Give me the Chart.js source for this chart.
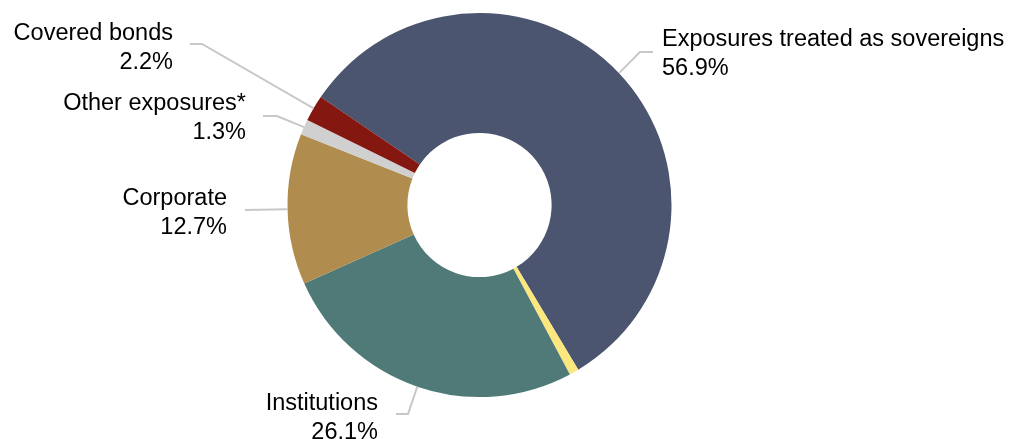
<!DOCTYPE html>
<html>
<head>
<meta charset="utf-8">
<script src="https://cdn.jsdelivr.net/npm/chart.js@4"></script>
<style>
  html, body { margin: 0; padding: 0; background: #ffffff; }
  #wrap { width: 1012px; height: 439px; position: relative; }
</style>
</head>
<body>
<div id="wrap"><canvas id="chart"></canvas></div>
<script>
// Exposure breakdown, clockwise from the upper-left edge of the largest slice
const categories = [
  'Exposures treated as sovereigns',
  '',
  'Institutions',
  'Corporate',
  'Other exposures*',
  'Covered bonds'
];
const shares = [56.9, 0.8, 26.1, 12.7, 1.3, 2.2];
const sliceColors = ['#4b5570', '#fbe77e', '#507a77', '#b08d4e', '#d0d0d0', '#84170f'];

// Callout layout per slice: leader elbow, leader end, text anchor, alignment
const callouts = [
  { elbow: [640, 52], end: [653, 52], text: [662, 46], align: 'left' },
  null,
  { elbow: [408, 414], end: [396, 414], text: [378, 410], align: 'right' },
  { elbow: [245, 210], end: [245, 210], text: [227, 205], align: 'right' },
  { elbow: [277, 116], end: [263, 116], text: [246, 110], align: 'right' },
  { elbow: [202, 44], end: [190, 44], text: [173, 40], align: 'right' }
];

const calloutPlugin = {
  id: 'callouts',
  afterDatasetsDraw(chart) {
    const ctx = chart.ctx;
    const meta = chart.getDatasetMeta(0);
    ctx.save();
    meta.data.forEach((arc, i) => {
      const c = callouts[i];
      if (!c) return;
      const p = arc.getProps(['x', 'y', 'startAngle', 'endAngle', 'outerRadius'], true);
      const mid = (p.startAngle + p.endAngle) / 2;
      const sx = p.x + Math.cos(mid) * p.outerRadius;
      const sy = p.y + Math.sin(mid) * p.outerRadius;
      ctx.beginPath();
      ctx.strokeStyle = '#c8c8c8';
      ctx.lineWidth = 2;
      ctx.moveTo(sx, sy);
      ctx.lineTo(c.elbow[0], c.elbow[1]);
      ctx.lineTo(c.end[0], c.end[1]);
      ctx.stroke();

      ctx.fillStyle = '#000000';
      ctx.font = '23.5px "Liberation Sans", Arial, sans-serif';
      ctx.textAlign = c.align;
      ctx.textBaseline = 'alphabetic';
      ctx.fillText(categories[i], c.text[0], c.text[1]);
      ctx.fillText(shares[i].toFixed(1) + '%', c.text[0], c.text[1] + 28.5);
    });
    ctx.restore();
  }
};

new Chart(document.getElementById('chart'), {
  type: 'doughnut',
  data: {
    labels: categories,
    datasets: [{
      data: shares,
      backgroundColor: sliceColors,
      borderWidth: 0
    }]
  },
  options: {
    responsive: true,
    maintainAspectRatio: false,
    animation: false,
    rotation: -55.8,
    radius: 192,
    cutout: 77,
    layout: { padding: { left: 0, right: 53, top: 0, bottom: 29 } },
    plugins: {
      legend: { display: false },
      tooltip: { enabled: false }
    }
  },
  plugins: [calloutPlugin]
});
</script>
</body>
</html>
